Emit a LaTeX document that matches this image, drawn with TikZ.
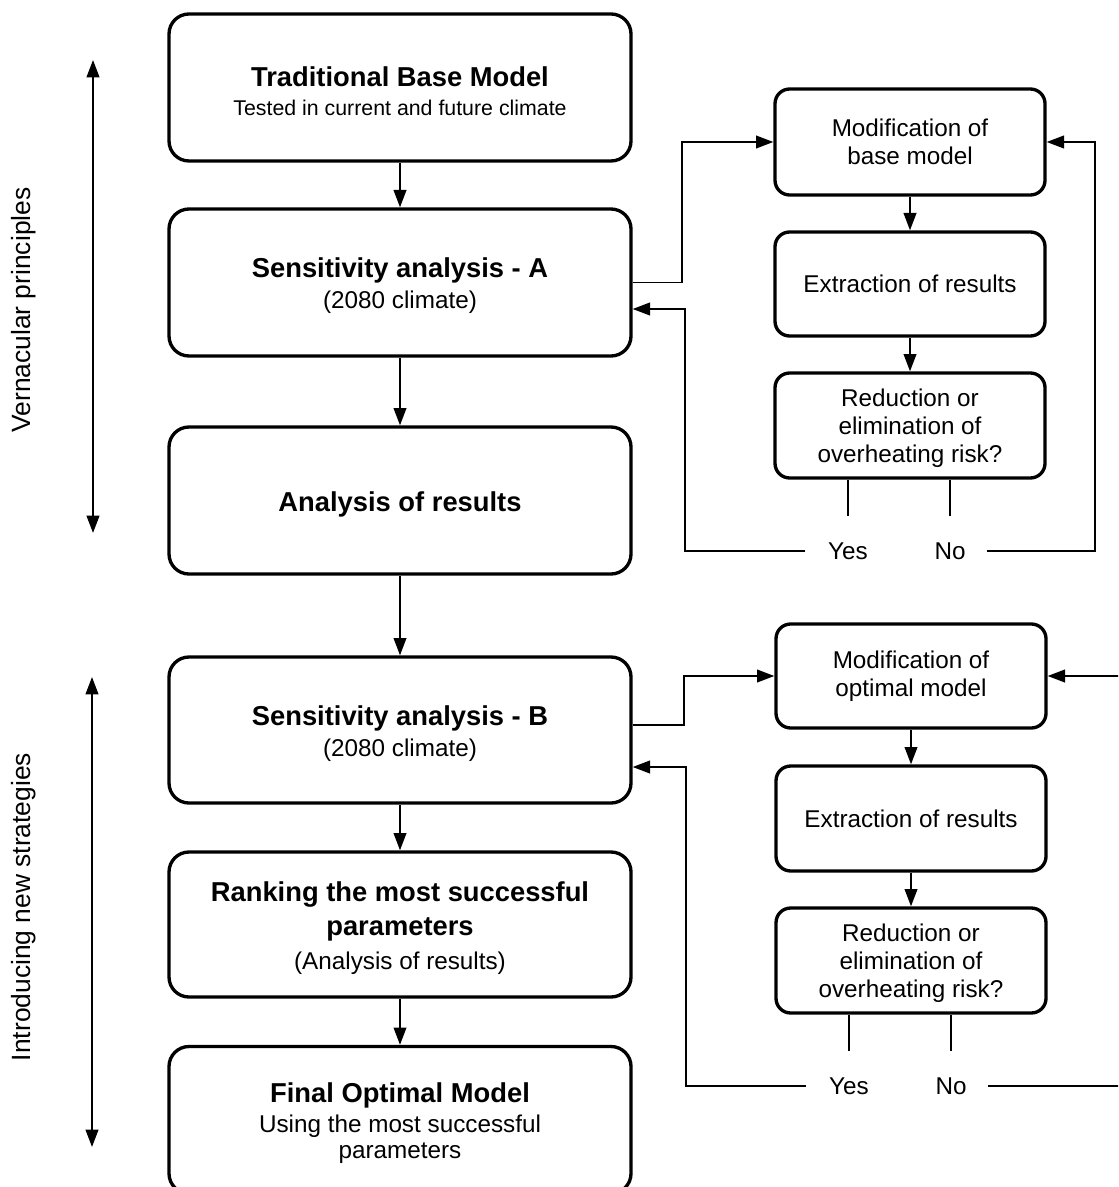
\documentclass[tikz,border=0pt]{standalone}
\usepackage{fontspec}
\setmainfont{Liberation Sans}
\usetikzlibrary{arrows.meta,calc}
\newcommand\boxtitle{\fontsize{20.5}{22}\selectfont\bfseries\rule{0pt}{20pt}}
\newcommand\boxsmall{\fontsize{16}{20}\selectfont}
\newcommand\upstrut{\rule{0pt}{17.8pt}}
\tikzset{
  mainbox/.style={draw, line width=2.5pt, rounded corners=15pt, minimum width=346.5pt,
    align=center, font=\fontsize{18.2}{22}\selectfont, inner sep=0pt},
  sidebox/.style={draw, line width=2.5pt, rounded corners=11pt, minimum width=202.5pt,
    minimum height=78.5pt, align=center, font=\fontsize{18.2}{21}\selectfont, inner sep=0pt},
  arr/.style={line width=1.4pt, -{Triangle[length=13pt,width=9.5pt]}},
  plainline/.style={line width=1.4pt},
  span/.style={line width=1.5pt, {Triangle[length=13pt,width=9.5pt]}-{Triangle[length=13pt,width=9.5pt]}},
  lbl/.style={font=\fontsize{18.2}{21}\selectfont, inner sep=0pt},
  sidelabel/.style={rotate=90, font=\fontsize{19.8}{22}\selectfont, inner sep=0pt},
}
\begin{document}
\begin{tikzpicture}[x=0.75pt, y=-0.75pt]
\useasboundingbox (0,0) rectangle (1118,1187);
\clip (0,0) rectangle (1118,1187);

% left column
\node[mainbox, minimum height=110.25pt] (b1) at (400,87.5)
  {{\boxtitle Traditional Base Model}\\ {\boxsmall Tested in current and future climate}};
\node[mainbox, minimum height=110.25pt] (b2) at (400,282.5)
  {{\boxtitle Sensitivity analysis - A}\\[1.5pt] (2080 climate)};
\node[mainbox, minimum height=110.25pt] (b3) at (400,500.5)
  {{\boxtitle Analysis of results}};
\node[mainbox, minimum height=109.5pt] (b4) at (400,730)
  {{\boxtitle Sensitivity analysis - B}\\[1.5pt] (2080 climate)};
\node[mainbox, minimum height=108.75pt] (b5) at (400,924.5)
  {{\boxtitle Ranking the most successful}\\[0.5pt] {\boxtitle parameters}\\[3pt] (Analysis of results)};
\node[mainbox, minimum height=110.25pt] (b6) at (400,1120)
  {{\boxtitle Final Optimal Model}\\[0.5pt] Using the most successful\\[-2.5pt] parameters};

\draw[arr] (b1) -- (b2);
\draw[arr] (b2) -- (b3);
\draw[arr] (b3) -- (b4);
\draw[arr] (b4) -- (b5);
\draw[arr] (b5) -- (b6);

% upper right loop
\node[sidebox, minimum height=79.5pt] (r1) at (910,142) {Modification of\\ base model};
\node[sidebox, minimum height=78pt] (r2) at (910,284) {Extraction of results};
\node[sidebox, minimum height=78.75pt] (r3) at (910,425.5) {\upstrut Reduction or\\ elimination of\\ overheating risk?};
\node[lbl] (yesA) at (848,551) {Yes};
\node[lbl] (noA) at (950,551) {No};

\draw[arr] (r1) -- (r2);
\draw[arr] (r2) -- (r3);
\draw[plainline, shorten >=20pt] (r3.south -| yesA) -- (yesA.north);
\draw[plainline, shorten >=20pt] (r3.south -| noA) -- (noA.north);

\coordinate (ja) at ($(b2.east)+(49,0)$);
\draw[arr] (b2.east) -- (ja) |- (r1.west);
\coordinate (ya) at ($(b2.east)+(52,26.5)$);
\draw[arr] ([xshift=-17pt]yesA.west) -| (ya) -- (b2.east |- ya);
\coordinate (na) at ($(r1.east)+(48,0)$);
\draw[arr] ([xshift=16pt]noA.east) -| (na) -- (r1.east);

% lower right loop
\node[sidebox, minimum height=78pt] (q1) at (911,676) {Modification of\\ optimal model};
\node[sidebox, minimum height=78.75pt] (q2) at (911,818.5) {Extraction of results};
\node[sidebox, minimum height=78.75pt] (q3) at (911,960.5) {\upstrut Reduction or\\ elimination of\\ overheating risk?};
\node[lbl] (yesB) at (849,1086) {Yes};
\node[lbl] (noB) at (951,1086) {No};

\draw[arr] (q1) -- (q2);
\draw[arr] (q2) -- (q3);
\draw[plainline, shorten >=20pt] (q3.south -| yesB) -- (yesB.north);
\draw[plainline, shorten >=20pt] (q3.south -| noB) -- (noB.north);

\coordinate (jb) at ($(b4.east)+(51,-5)$);
\draw[arr] (b4.east |- jb) -- (jb) |- (q1.west);
\coordinate (yb) at ($(b4.east)+(53,37)$);
\draw[arr] ([xshift=-17pt]yesB.west) -| (yb) -- (b4.east |- yb);
\coordinate (nb) at ($(q1.east)+(90,0)$);
\draw[arr] ([xshift=16pt]noB.east) -| (nb) -- (q1.east);

% phase arrows and labels
\coordinate (v1) at (93,60);
\coordinate (v2) at (93,533);
\coordinate (i1) at (92,677);
\coordinate (i2) at (92,1147);
\draw[span] (v1) -- (v2);
\draw[span] (i1) -- (i2);
\node[sidelabel] (vl) at (24,310) {Vernacular principles};
\node[sidelabel] (il) at (24,907) {Introducing new strategies};
\end{tikzpicture}
\end{document}
